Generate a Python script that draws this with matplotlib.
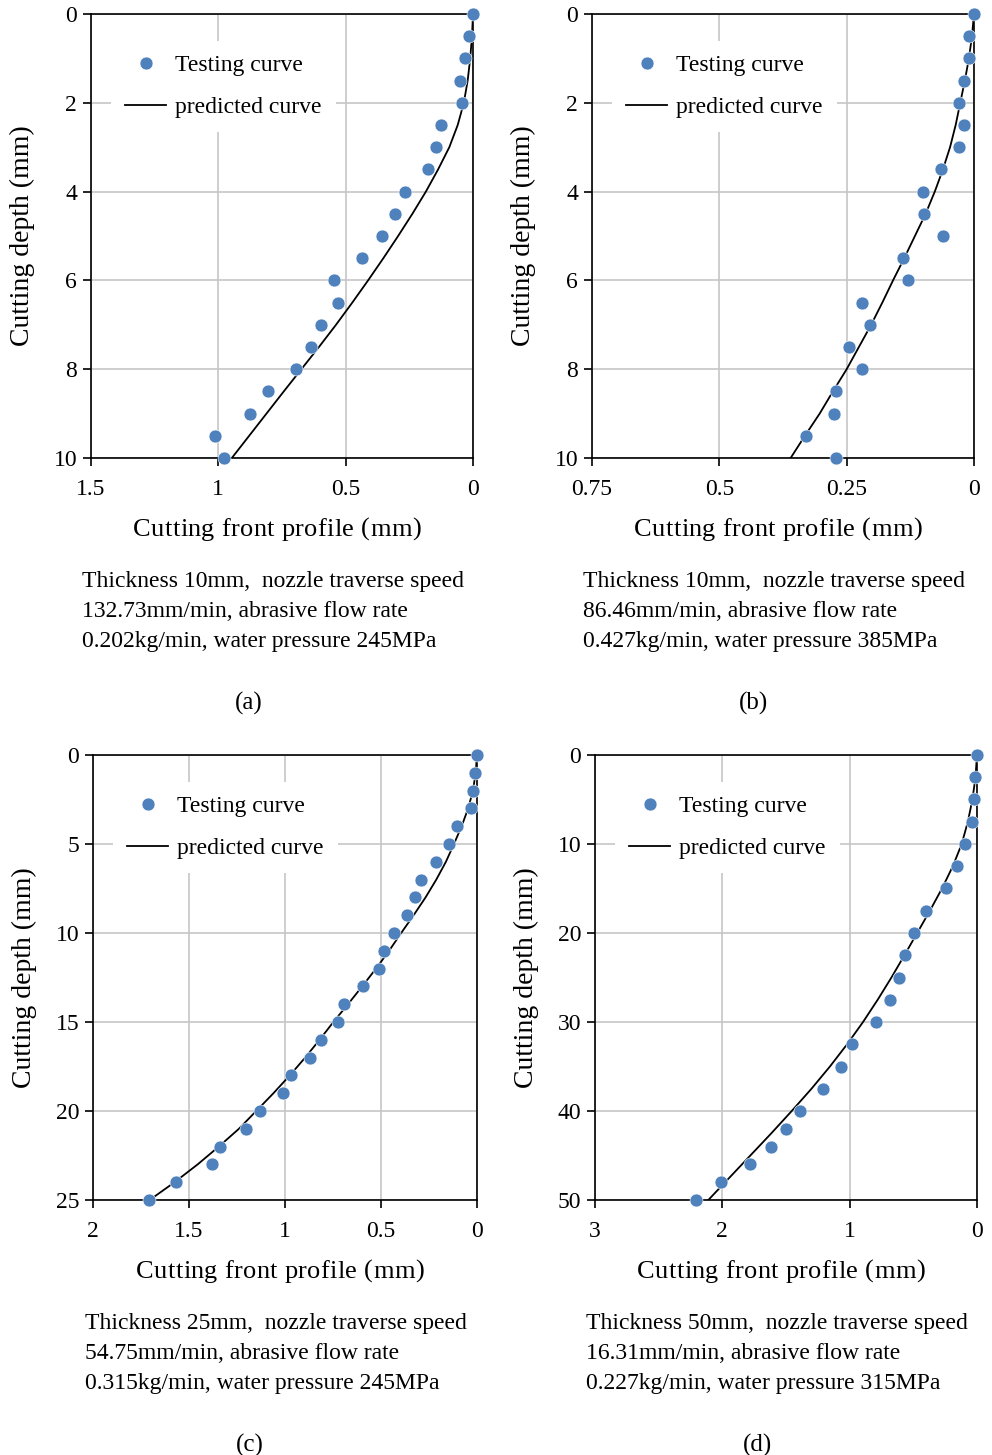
import matplotlib
matplotlib.use("Agg")
import matplotlib.pyplot as plt

plt.rcParams["font.family"] = ["Liberation Serif", "DejaVu Serif"]

# ---- panel (a): thickness 10 mm, 132.73 mm/min
depth_a = [0, 0.5, 1, 1.5, 2, 2.5, 3, 3.5, 4, 4.5, 5, 5.5, 6, 6.5, 7, 7.5, 8, 8.5, 9, 9.5, 10]
test_a = [0.001, 0.017, 0.030, 0.051, 0.044, 0.127, 0.146, 0.177, 0.267, 0.306, 0.357,
          0.437, 0.546, 0.531, 0.597, 0.636, 0.696, 0.806, 0.877, 1.013, 0.978]
pred_a = [0, 0.004, 0.011, 0.021, 0.036, 0.060, 0.093, 0.137, 0.185, 0.238, 0.294,
          0.352, 0.412, 0.474, 0.538, 0.605, 0.674, 0.743, 0.811, 0.879, 0.947]

# ---- panel (b): thickness 10 mm, 86.46 mm/min
depth_b = [0, 0.5, 1, 1.5, 2, 2.5, 3, 3.5, 4, 4.5, 5, 5.5, 6, 6.5, 7, 7.5, 8, 8.5, 9, 9.5, 10]
test_b = [0.0, 0.010, 0.010, 0.019, 0.030, 0.020, 0.030, 0.064, 0.100, 0.099, 0.060,
          0.140, 0.129, 0.220, 0.205, 0.245, 0.220, 0.271, 0.275, 0.330, 0.271]
pred_b = [0, 0.004, 0.010, 0.018, 0.027, 0.036, 0.047, 0.061, 0.077, 0.095, 0.116,
          0.137, 0.159, 0.180, 0.202, 0.226, 0.250, 0.277, 0.303, 0.332, 0.360]

# ---- panel (c): thickness 25 mm, 54.75 mm/min
depth_c = [0, 1, 2, 3, 4, 5, 6, 7, 8, 9, 10, 11, 12, 13, 14, 15, 16, 17, 18, 19, 20,
           21, 22, 23, 24, 25]
test_c = [0.0, 0.010, 0.021, 0.031, 0.103, 0.148, 0.212, 0.292, 0.322, 0.365, 0.433,
          0.482, 0.510, 0.593, 0.691, 0.722, 0.812, 0.871, 0.970, 1.010, 1.130, 1.205,
          1.339, 1.379, 1.570, 1.709]
pred_c = [0, 0.007, 0.021, 0.046, 0.080, 0.120, 0.162, 0.212, 0.268, 0.330, 0.395,
          0.458, 0.526, 0.598, 0.672, 0.748, 0.820, 0.895, 0.975, 1.060, 1.150, 1.240,
          1.345, 1.455, 1.575, 1.705]

# ---- panel (d): thickness 50 mm, 16.31 mm/min
depth_d = [0, 2.5, 5, 7.5, 10, 12.5, 15, 17.5, 20, 22.5, 25, 27.5, 30, 32.5, 35, 37.5,
           40, 42, 44, 46, 48, 50]
test_d = [0.0, 0.018, 0.026, 0.039, 0.097, 0.159, 0.246, 0.398, 0.497, 0.568, 0.612,
          0.680, 0.790, 0.984, 1.068, 1.209, 1.390, 1.497, 1.620, 1.780, 2.007, 2.208]
pred_depth_d = [0, 2.5, 5, 7.5, 10, 12.5, 15, 17.5, 20, 22.5, 25, 27.5, 30, 32.5, 35,
                37.5, 40, 42.5, 45, 47.5, 50]
pred_d = [0, 0.012, 0.036, 0.072, 0.120, 0.190, 0.275, 0.370, 0.470, 0.570, 0.672,
          0.780, 0.895, 1.020, 1.155, 1.300, 1.455, 1.615, 1.780, 1.945, 2.110]

captions = {
    "a": ["Thickness 10mm,  nozzle traverse speed", "132.73mm/min, abrasive flow rate",
          "0.202kg/min, water pressure 245MPa"],
    "b": ["Thickness 10mm,  nozzle traverse speed", "86.46mm/min, abrasive flow rate",
          "0.427kg/min, water pressure 385MPa"],
    "c": ["Thickness 25mm,  nozzle traverse speed", "54.75mm/min, abrasive flow rate",
          "0.315kg/min, water pressure 245MPa"],
    "d": ["Thickness 50mm,  nozzle traverse speed", "16.31mm/min, abrasive flow rate",
          "0.227kg/min, water pressure 315MPa"],
}

W, H = 992, 1455
BLUE = "#4f81bd"
FS = 17

fig = plt.figure(figsize=(W / 100, H / 100), dpi=100)
renderer = fig.canvas.get_renderer()


def text_width(s, size):
    t = fig.text(0, 0, s, fontsize=size)
    w = t.get_window_extent(renderer).width
    t.remove()
    return w


def tracked_text(xc, y_base, s, target, size):
    # lay the string out letter by letter so it spans `target` pixels
    full = text_width(s, size)
    gap = (target - full) / (len(s) - 1)
    x0 = xc - target / 2
    for i, ch in enumerate(s):
        if ch == " ":
            continue
        x = x0 + text_width(s[:i + 1], size) - text_width(ch, size) + i * gap
        fig.text(x / W, 1 - y_base / H, ch, fontsize=size, ha="left", va="baseline")


def draw_panel(key, box, depth, test, pdepth, pred, xmax, xticks, xlabels,
               ymax, yticks, col_left, text_top, xlab_x, tag_x):
    left, top, right, bottom = box
    ax = fig.add_axes([left / W, 1 - bottom / H, (right - left) / W, (bottom - top) / H])

    ax.plot(pred, pdepth, color="black", lw=1.3, zorder=3, label="predicted curve")
    ax.plot(test, depth, "o", color=BLUE, ms=9.3, mec="white", mew=0.4, zorder=4,
            clip_on=False, label="Testing curve")

    ax.set_xlim(xmax, 0)
    ax.set_ylim(ymax, 0)
    ax.set_xticks(xticks)
    ax.set_xticklabels(xlabels)
    ax.set_yticks(yticks)
    ax.grid(True, color="#c6c6c6", lw=1.2)
    ax.set_axisbelow(True)
    for sp in ax.spines.values():
        sp.set_linewidth(1.2)
        sp.set_color("black")
    ax.tick_params(axis="both", direction="out", length=6, width=1.2, labelsize=FS,
                   colors="black")
    ax.tick_params(axis="x", pad=9)
    ax.tick_params(axis="y", pad=4)

    handles, labels = ax.get_legend_handles_labels()
    leg = ax.legend(handles[::-1], labels[::-1], loc="upper left",
                    bbox_to_anchor=(0.052, 0.94), borderaxespad=0, fontsize=FS,
                    frameon=True, fancybox=False, framealpha=1, edgecolor="none",
                    facecolor="white", handlelength=1.75, handletextpad=0.36,
                    labelspacing=0.85, borderpad=0.6)
    leg.set_zorder(5)

    tracked_text(xlab_x, bottom + 78, "Cutting front profile (mm)", 288, 19)
    fig.text((left - 69) / W, 1 - (top + bottom) / 2 / H, "Cutting depth (mm)",
             ha="center", va="center", rotation=90, fontsize=20)

    for i, line in enumerate(captions[key]):
        fig.text(col_left / W, 1 - (text_top + 30.5 * i) / H, line,
                 ha="left", va="center", fontsize=FS)
    fig.text(tag_x / W, 1 - (text_top + 122) / H, f"({key})",
             ha="center", va="center", fontsize=18)
    return ax


draw_panel("a", (91, 14, 473, 458), depth_a, test_a, depth_a, pred_a,
           1.5, [1.5, 1, 0.5, 0], ["1.5", "1", "0.5", "0"], 10, [0, 2, 4, 6, 8, 10],
           82, 581, 277, 249)
draw_panel("b", (592, 14, 974, 458), depth_b, test_b, depth_b, pred_b,
           0.75, [0.75, 0.5, 0.25, 0], ["0.75", "0.5", "0.25", "0"], 10,
           [0, 2, 4, 6, 8, 10], 583, 581, 778, 753)
draw_panel("c", (93, 755, 477, 1200), depth_c, test_c, depth_c, pred_c,
           2, [2, 1.5, 1, 0.5, 0], ["2", "1.5", "1", "0.5", "0"], 25,
           [0, 5, 10, 15, 20, 25], 85, 1323, 280, 250)
draw_panel("d", (595, 755, 977, 1200), depth_d, test_d, pred_depth_d, pred_d,
           3, [3, 2, 1, 0], ["3", "2", "1", "0"], 50, [0, 10, 20, 30, 40, 50],
           586, 1323, 781, 758)

fig.savefig("out.png", dpi=100)
